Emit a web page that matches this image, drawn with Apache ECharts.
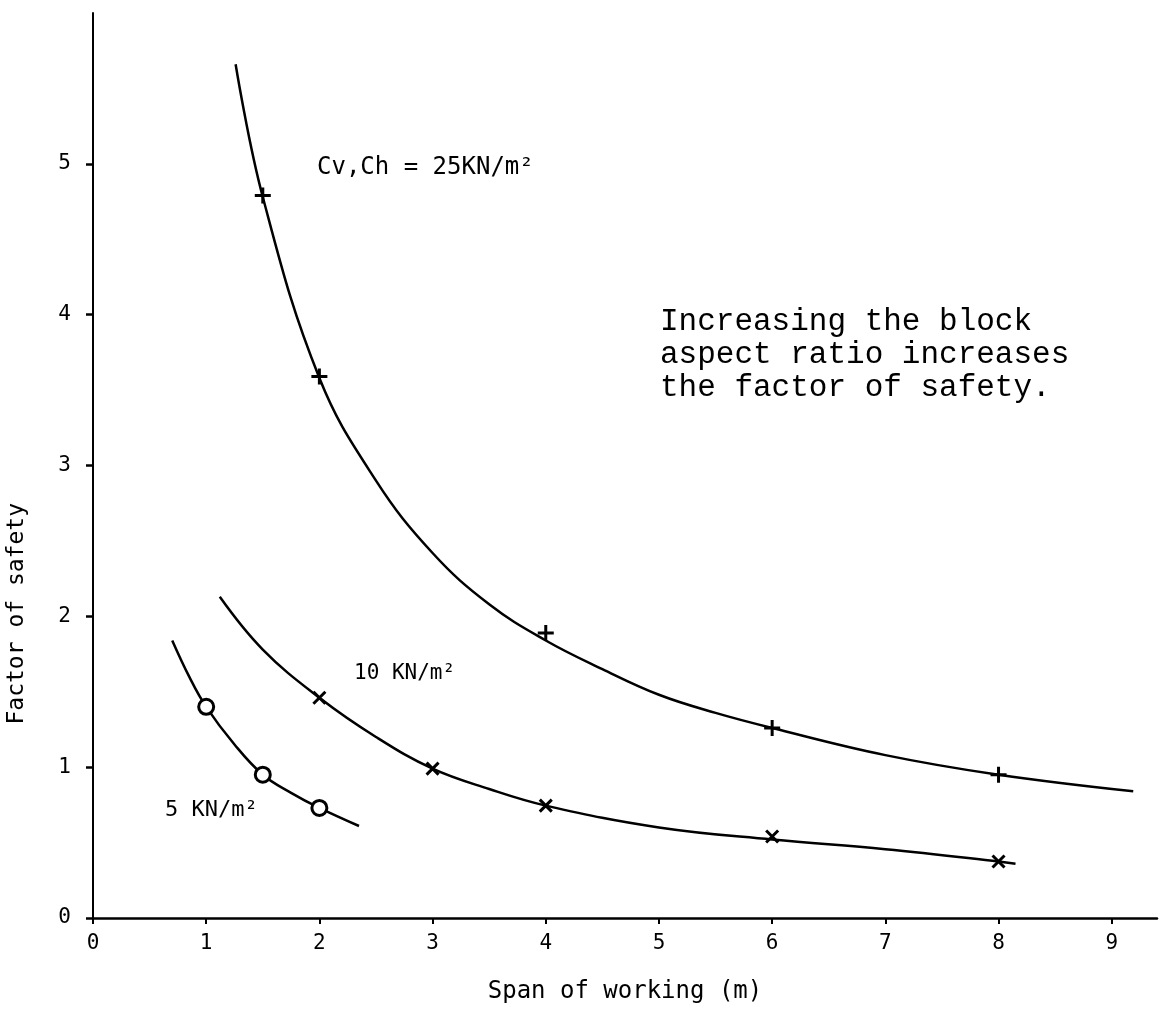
<!DOCTYPE html>
<html lang="en">
  <head>
    <meta charset="UTF-8" />
    <title>Factor of safety vs span</title>
    <script src="https://cdn.jsdelivr.net/npm/echarts@6/dist/echarts.min.js"></script>
    <style>
      html, body { margin: 0; padding: 0; background: #fff; }
      .echarts { width: 1163px; height: 1009px; }
    </style>
  </head>
  <body>
    <div class="echarts"></div>
    <script>
      // tick values
      const xTicks = [0, 1, 2, 3, 4, 5, 6, 7, 8, 9]
      const yTicks = [0, 1, 2, 3, 4, 5]

      // measured points (markers)
      const pts25 = [[1.5, 4.79], [2, 3.59], [4, 1.89], [6, 1.26], [8, 0.95]]
      const pts10 = [[2, 1.46], [3, 0.99], [4, 0.745], [6, 0.54], [8, 0.375]]
      const pts5 = [[1, 1.40], [1.5, 0.95], [2, 0.73]]

      // fitted curves
      const curve25 = [[1.26, 5.66], [1.5, 4.78], [2, 3.58], [2.5, 2.9], [3, 2.42],
        [3.5, 2.08], [4, 1.84], [4.5, 1.65], [5, 1.48], [5.5, 1.36], [6, 1.26], [7, 1.08],
        [8, 0.95], [9.19, 0.84]]
      const curve10 = [[1.12, 2.13], [1.5, 1.78], [2, 1.46], [2.5, 1.2], [3, 0.99], [3.5, 0.855],
        [4, 0.745], [5, 0.6], [6, 0.52], [7, 0.456], [8, 0.375], [8.15, 0.36]]
      const curve5 = [[0.70, 1.84], [0.85, 1.6], [1, 1.40], [1.25, 1.15], [1.5, 0.95], [1.75, 0.83],
        [2, 0.73], [2.35, 0.61]]

      const myCharts = echarts.init(document.querySelector('.echarts'))

      const techFont = 'DejaVu Sans Mono'
      const plusPath = 'path://M0,-10 L0,10 M-10,0 L10,0'
      const crossPath = 'path://M-10,-10 L10,10 M-10,10 L10,-10'

      function curve(data) {
        return {
          type: 'line',
          data: data,
          smooth: 0.4,
          showSymbol: false,
          silent: true,
          lineStyle: { color: '#000', width: 2.5 }
        }
      }
      function marks(data, symbol, size, fill) {
        return {
          type: 'scatter',
          data: data,
          symbol: symbol,
          symbolSize: size,
          silent: true,
          itemStyle: { color: fill, borderColor: '#000', borderWidth: 3, opacity: 1 },
          z: 3
        }
      }

      const option = {
        animation: false,
        backgroundColor: '#fff',
        grid: { left: 93, top: 13, right: 6, bottom: 88, containLabel: false },
        xAxis: {
          type: 'value',
          min: 0,
          max: 9.4,
          name: 'Span of working (m)',
          nameLocation: 'middle',
          nameGap: 62,
          nameTextStyle: { fontFamily: techFont, fontSize: 24, color: '#000' },
          axisLine: { lineStyle: { color: '#000', width: 2.5 } },
          axisTick: { customValues: xTicks, length: 6, lineStyle: { color: '#000', width: 2 } },
          axisLabel: { customValues: xTicks, fontFamily: techFont, fontSize: 21, color: '#000', margin: 15 },
          splitLine: { show: false }
        },
        yAxis: {
          type: 'value',
          min: 0,
          max: 6,
          axisLine: { show: true, lineStyle: { color: '#000', width: 2 } },
          axisTick: { show: true, customValues: yTicks, length: 7, lineStyle: { color: '#000', width: 2.5 } },
          axisLabel: { customValues: yTicks, fontFamily: techFont, fontSize: 21, color: '#000', margin: 22 },
          splitLine: { show: false }
        },
        graphic: [
          {
            type: 'text', left: 6, top: 503, rotation: Math.PI / 2,
            style: { text: 'Factor of safety', fontFamily: techFont, fontSize: 23, fill: '#000' }
          },
          {
            type: 'text', left: 317, top: 156,
            style: { text: 'Cv,Ch = 25KN/m²', fontFamily: techFont, fontSize: 24, fill: '#000' }
          },
          {
            type: 'text', left: 354, top: 663,
            style: { text: '10 KN/m²', fontFamily: techFont, fontSize: 21, fill: '#000' }
          },
          {
            type: 'text', left: 165, top: 799,
            style: { text: '5 KN/m²', fontFamily: techFont, fontSize: 22, fill: '#000' }
          },
          {
            type: 'text', left: 660, top: 305,
            style: {
              text: 'Increasing the block\naspect ratio increases\nthe factor of safety.',
              fontFamily: 'Liberation Mono', fontSize: 31, lineHeight: 33, fill: '#000'
            }
          }
        ],
        series: [
          curve(curve25),
          curve(curve10),
          curve(curve5),
          marks(pts25, plusPath, 16, 'none'),
          marks(pts10, crossPath, 12, 'none'),
          marks(pts5, 'circle', 15, '#fff')
        ]
      }
      myCharts.setOption(option)
    </script>
  </body>
</html>
